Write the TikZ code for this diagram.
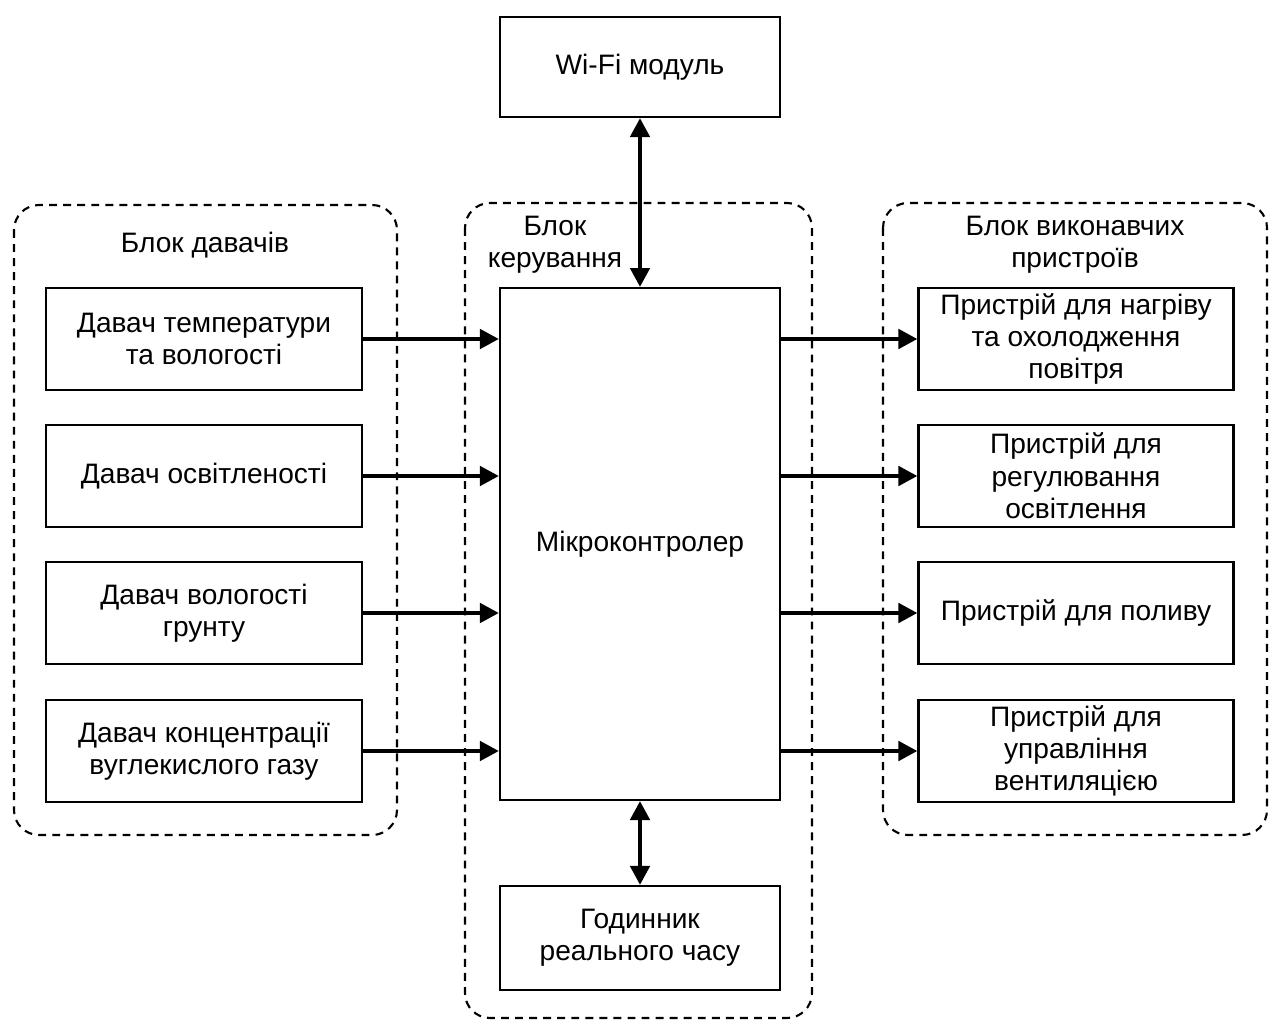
\documentclass[tikz,border=0pt]{standalone}
\usepackage{fontspec}
\setmainfont{Liberation Sans}
\usetikzlibrary{arrows.meta}

\tikzset{
  block/.style={draw, line width=1.2pt, minimum width=6.32cm, minimum height=2.04cm, align=center, inner sep=2pt, font=\fontsize{16}{18.4}\selectfont},
  caption/.style={align=center, font=\fontsize{16}{18.4}\selectfont},
  group/.style={draw, line width=1.2pt, dash pattern=on 4.5pt off 3.5pt, rounded corners=0.5cm},
  link/.style={line width=2.6pt, -{Triangle[length=0.38cm, width=0.38cm]}},
  duplex/.style={line width=2.6pt, {Triangle[length=0.38cm, width=0.38cm]}-{Triangle[length=0.38cm, width=0.38cm]}}
}

\begin{document}
\begin{tikzpicture}[x=0.02cm, y=-0.02cm]
\useasboundingbox (0,0) rectangle (1275,1021);

% groups
\draw[group] (14,205) rectangle (397,835);
\draw[group] (465,203) rectangle (812,1018);
\draw[group] (883,203) rectangle (1267,835);
\node[caption] (sensors_label) at (205,245) {Блок давачів};
\node[caption] (control_label) at (555,245) {Блок\\керування};
\node[caption] (actuators_label) at (1075,245) {Блок виконавчих\\пристроїв};

% control block
\node[block, minimum width=5.6cm, minimum height=2cm] (wifi) at (640,67) {Wi-Fi модуль};
\node[block, minimum width=5.6cm, minimum height=10.24cm] (mcu) at (640,544) {Мікроконтролер};
\node[block, minimum width=5.6cm, minimum height=2.08cm] (clock) at (640,938) {Годинник\\реального часу};

% sensors
\node[block] (temp_sensor) at (204,339) {Давач температури\\та вологості};
\node[block] (light_sensor) at (204,476) {Давач освітленості};
\node[block] (soil_sensor) at (204,613) {Давач вологості\\грунту};
\node[block] (co2_sensor) at (204,751) {Давач концентрації\\вуглекислого газу};

% actuators
\node[block, minimum width=6.3cm] (climate_dev) at (1076,339) {Пристрій для нагріву\\та охолодження\\повітря};
\node[block, minimum width=6.3cm] (light_dev) at (1076,476) {Пристрій для\\регулювання\\освітлення};
\node[block, minimum width=6.3cm] (water_dev) at (1076,613) {Пристрій для поливу};
\node[block, minimum width=6.3cm] (vent_dev) at (1076,751) {Пристрій для\\управління\\вентиляцією};

\draw[duplex] (wifi) -- (mcu);
\draw[duplex] (mcu) -- (clock);
\foreach \s in {temp_sensor, light_sensor, soil_sensor, co2_sensor}
  \draw[link] (\s.east) -- (\s -| mcu.west);
\foreach \d in {climate_dev, light_dev, water_dev, vent_dev}
  \draw[link] (\d -| mcu.east) -- (\d.west);
\end{tikzpicture}
\end{document}
